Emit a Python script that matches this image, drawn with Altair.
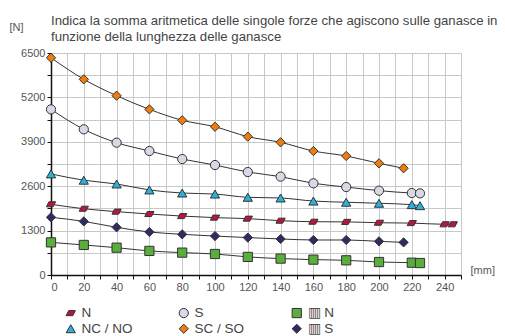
import altair as alt
import pandas as pd

# ---- data ----
series_names = ["N", "NC / NO", "S", "SC / SO", "▥ N", "▥ S"]
series_colors = ["#b8163c", "#2cb1da", "#d9d9e6", "#f07c0c", "#5aae3c", "#2f2b63"]
series_shapes = [
    "M-0.45,-0.55L1,-0.55L0.45,0.55L-1,0.55Z",
    "triangle-up",
    "circle",
    "diamond",
    "square",
    "diamond",
]

x_N = [0, 20, 40, 60, 80, 100, 120, 140, 160, 180, 200, 220, 240, 245]
y_N = [2070, 1940, 1855, 1785, 1725, 1680, 1650, 1590, 1560, 1555, 1530, 1520, 1485, 1485]

x_S = [0, 20, 40, 60, 80, 100, 120, 140, 160, 180, 200, 220, 225]
y_S = [4850, 4265, 3875, 3630, 3395, 3220, 3015, 2880, 2685, 2575, 2470, 2400, 2390]

x_NC = [0, 20, 40, 60, 80, 100, 120, 140, 160, 180, 200, 220, 225]
y_NC = [2960, 2775, 2665, 2490, 2400, 2370, 2275, 2255, 2165, 2130, 2100, 2060, 2030]

x_SC = [0, 20, 40, 60, 80, 100, 120, 140, 160, 180, 200, 215]
y_SC = [6360, 5730, 5250, 4850, 4530, 4340, 4050, 3885, 3630, 3485, 3270, 3125]

x_SprN = [0, 20, 40, 60, 80, 100, 120, 140, 160, 180, 200, 220, 225]
y_SprN = [955, 880, 800, 705, 655, 615, 530, 480, 450, 430, 380, 360, 350]

x_SprS = [0, 20, 40, 60, 80, 100, 120, 140, 160, 180, 200, 215]
y_SprS = [1690, 1570, 1395, 1260, 1190, 1140, 1095, 1055, 1025, 1025, 985, 955]

x_ticks = list(range(0, 251, 10))
y_ticks = list(range(0, 6501, 650))

title_lines = [
    "Indica la somma aritmetica delle singole forze che agiscono sulle ganasce in",
    "funzione della lunghezza delle ganasce",
]

# ---- long table ----
rows = []
for name, xs, ys in [
    ("N", x_N, y_N),
    ("S", x_S, y_S),
    ("NC / NO", x_NC, y_NC),
    ("SC / SO", x_SC, y_SC),
    ("▥ N", x_SprN, y_SprN),
    ("▥ S", x_SprS, y_SprS),
]:
    for i, (xv, yv) in enumerate(zip(xs, ys)):
        rows.append({"series": name, "mm": xv, "force": yv, "idx": i})
df = pd.DataFrame(rows)

FONT = "Liberation Sans"

x_enc = alt.X(
    "mm:Q",
    scale=alt.Scale(domain=[0, 250], nice=False, zero=False),
    axis=alt.Axis(
        values=x_ticks,
        labelExpr="datum.value % 20 == 0 ? datum.label : ''",
        title="[mm]",
        titleAngle=0,
        titleX=419,
        titleY=-5,
        titleAlign="left",
        titleBaseline="middle",
    ),
)
y_enc = alt.Y(
    "force:Q",
    scale=alt.Scale(domain=[0, 6500], nice=False),
    axis=alt.Axis(
        values=y_ticks,
        format="d",
        labelExpr="datum.value % 1300 == 0 ? datum.label : ''",
        title="[N]",
        titleAngle=0,
        titleX=-42,
        titleY=-26,
        titleAlign="left",
        titleBaseline="middle",
    ),
)

lines = alt.Chart(df).mark_line(
    color="#333333", strokeWidth=1, interpolate="monotone"
).encode(x=x_enc, y=y_enc, detail="series:N", order="idx:Q")

legend_cfg = dict(
    title=None,
    orient="none",
    legendX=13,
    legendY=253,
    columns=3,
    gridAlign="all",
    columnPadding=44,
    rowPadding=1,
    padding=0,
    symbolSize=85,
    symbolStrokeColor="#333333",
    symbolStrokeWidth=1,
    labelFontSize=13.5,
    labelColor="#444444",
    labelFont=FONT,
    labelOffset=4,
)

points = alt.Chart(df).mark_point(
    filled=True, size=85, stroke="#333333", strokeWidth=1, opacity=1
).encode(
    x=x_enc,
    y=y_enc,
    color=alt.Color(
        "series:N",
        scale=alt.Scale(domain=series_names, range=series_colors),
        legend=alt.Legend(**legend_cfg),
    ),
    shape=alt.Shape(
        "series:N",
        scale=alt.Scale(domain=series_names, range=series_shapes),
        legend=alt.Legend(**legend_cfg),
    ),
)

chart = (
    alt.layer(lines, points)
    .properties(
        width=410,
        height=222,
        autosize=alt.AutoSizeParams(type="none"),
        padding={"left": 43, "top": 45, "right": 36, "bottom": 61},
        title=alt.TitleParams(
            text=title_lines,
            anchor="start",
            frame="group",
            fontSize=13.2,
            fontWeight="normal",
            color="#444444",
            font=FONT,
            lineHeight=16,
            offset=-23,
        ),
    )
    .configure_view(stroke=None)
    .configure_axis(
        grid=True,
        gridColor="#c8c8c8",
        gridWidth=1,
        domainColor="#111111",
        domainWidth=1.5,
        tickColor="#111111",
        tickSize=4,
        labelColor="#555555",
        labelFontSize=11,
        labelFont=FONT,
        titleColor="#555555",
        titleFontSize=11,
        titleFontWeight="normal",
        titleFont=FONT,
        labelPadding=2,
    )
)

chart.save("out.html", embed_options={"renderer": "svg", "actions": False})
